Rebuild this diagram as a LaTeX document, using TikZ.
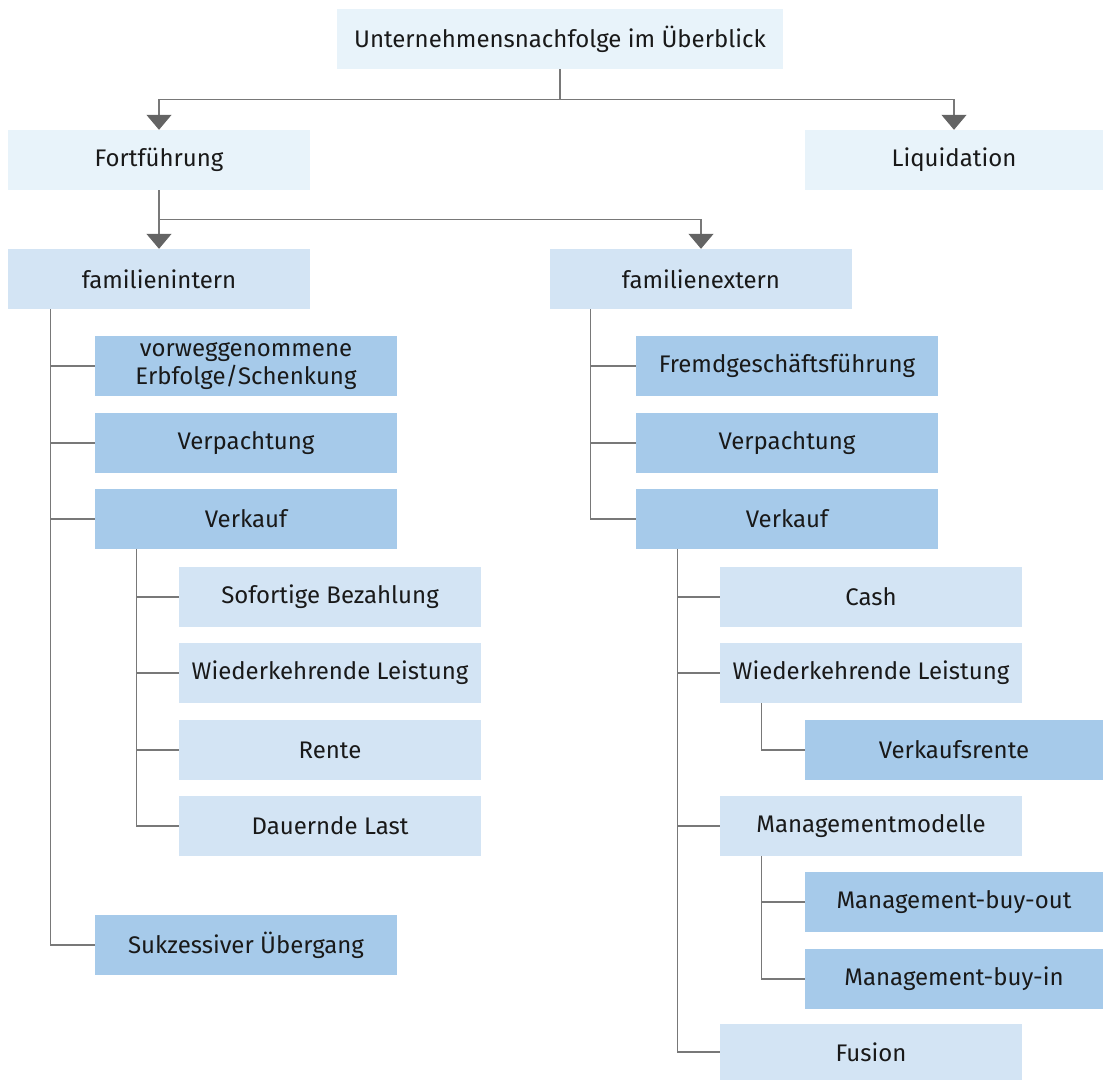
\documentclass[tikz,border=0pt]{standalone}
\usepackage{fontspec}
\setmainfont{Fira Sans}
\usetikzlibrary{arrows.meta}
\definecolor{cTop}{RGB}{232,243,250}
\definecolor{cLight}{RGB}{211,228,244}
\definecolor{cDark}{RGB}{166,202,234}
\definecolor{cLine}{RGB}{120,120,120}
\definecolor{cArr}{RGB}{100,100,100}
\tikzset{
  box/.style={inner sep=0pt, minimum width=302pt, minimum height=60pt, align=center, font=\fontsize{24}{28}\selectfont, text=black!90},
  topbox/.style={box, fill=cTop},
  lbox/.style={box, fill=cLight},
  dbox/.style={box, fill=cDark},
  conn/.style={draw=cLine, line width=1.2pt},
  arr/.style={conn, -{Triangle[width=25pt,length=15pt,color=cArr]}},
}
\begin{document}
\begin{tikzpicture}[x=1pt,y=-1pt]
\useasboundingbox (0,0) rectangle (1103,1081);
% nodes
\node[topbox, minimum width=446pt] (top) at (560,39) {Unternehmensnachfolge im Überblick};
\node[topbox] (fort) at (159,160) {Fortführung};
\node[topbox, minimum width=298pt] (liq) at (954,160) {Liquidation};
\node[lbox] (fint) at (159,279) {familienintern};
\node[lbox] (fext) at (701,279) {familienextern};
% left
\node[dbox] (l1) at (246,366) {vorweggenommene\\Erbfolge/Schenkung};
\node[dbox] (l2) at (246,443) {Verpachtung};
\node[dbox] (l3) at (246,519) {Verkauf};
\node[dbox] (l4) at (246,945) {Sukzessiver Übergang};
\node[lbox] (la) at (330,597) {Sofortige Bezahlung};
\node[lbox] (lb) at (330,673) {Wiederkehrende Leistung};
\node[lbox] (lc) at (330,750) {Rente};
\node[lbox] (ld) at (330,826) {Dauernde Last};
% right
\node[dbox] (r1) at (787,366) {Fremdgeschäftsführung};
\node[dbox] (r2) at (787,443) {Verpachtung};
\node[dbox] (r3) at (787,519) {Verkauf};
\node[lbox] (ra) at (871,597) {Cash};
\node[lbox] (rb) at (871,673) {Wiederkehrende Leistung};
\node[dbox, minimum width=298pt] (rb1) at (954,750) {Verkaufsrente};
\node[lbox] (rc) at (871,826) {Managementmodelle};
\node[dbox, minimum width=298pt] (rc1) at (954,902) {Management-buy-out};
\node[dbox, minimum width=298pt] (rc2) at (954,979) {Management-buy-in};
\node[lbox, minimum height=56pt] (rd) at (871,1052) {Fusion};
% connectors top
\draw[conn] (top.south) -- ++(0,30) coordinate (tj);
\draw[arr] (tj) -| (fort.north);
\draw[arr] (tj) -| (liq.north);
\draw[arr] (fort.south) -- (fint.north);
\draw[arr] ([yshift=-29pt]fort.south) -| (fext.north);
% left tree
\foreach \n in {l1,l2,l3,l4} \draw[conn] ([xshift=43pt]fint.south west) |- (\n.west);
\foreach \n in {la,lb,lc,ld} \draw[conn] ([xshift=42pt]l3.south west) |- (\n.west);
% right tree
\foreach \n in {r1,r2,r3} \draw[conn] ([xshift=41pt]fext.south west) |- (\n.west);
\foreach \n in {ra,rb,rc,rd} \draw[conn] ([xshift=42pt]r3.south west) |- (\n.west);
\draw[conn] ([xshift=42pt]rb.south west) |- (rb1.west);
\foreach \n in {rc1,rc2} \draw[conn] ([xshift=42pt]rc.south west) |- (\n.west);
\end{tikzpicture}
\end{document}
